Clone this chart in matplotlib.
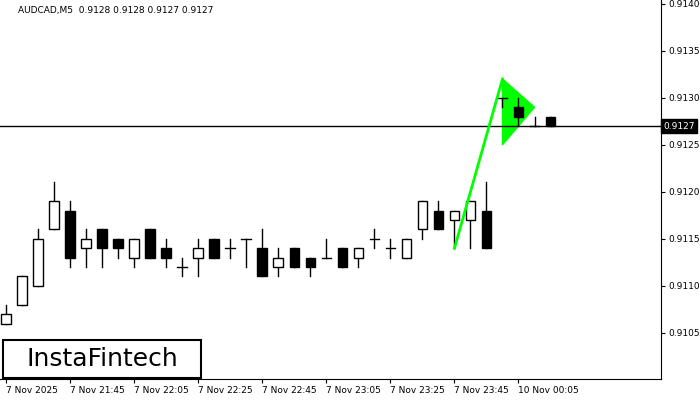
import matplotlib.pyplot as plt
from matplotlib.patches import Rectangle, Polygon

opens = [0.9106, 0.9108, 0.9110, 0.9116, 0.9118, 0.9114, 0.9116, 0.9115, 0.9113, 0.9116,
         0.9114, 0.9112, 0.9113, 0.9115, 0.9114, 0.9115, 0.9114, 0.9112, 0.9114, 0.9113,
         0.9113, 0.9114, 0.9113, 0.9115, 0.9114, 0.9113, 0.9116, 0.9118, 0.9117, 0.9117,
         0.9118, 0.9130, 0.9129, 0.9127, 0.9128]
closes = [0.9107, 0.9111, 0.9115, 0.9119, 0.9113, 0.9115, 0.9114, 0.9114, 0.9115, 0.9113,
          0.9113, 0.9112, 0.9114, 0.9113, 0.9114, 0.9115, 0.9111, 0.9113, 0.9112, 0.9112,
          0.9113, 0.9112, 0.9114, 0.9115, 0.9114, 0.9115, 0.9119, 0.9116, 0.9118, 0.9119,
          0.9114, 0.9130, 0.9128, 0.9127, 0.9127]
highs = [0.9108, 0.9111, 0.9116, 0.9121, 0.9119, 0.9116, 0.9116, 0.9115, 0.9115, 0.9116,
         0.9115, 0.9113, 0.9115, 0.9115, 0.9115, 0.9115, 0.9116, 0.9114, 0.9114, 0.9113,
         0.9115, 0.9114, 0.9114, 0.9116, 0.9115, 0.9115, 0.9119, 0.9119, 0.9118, 0.9119,
         0.9121, 0.9130, 0.9130, 0.9128, 0.9128]
lows = [0.9106, 0.9108, 0.9110, 0.9116, 0.9112, 0.9112, 0.9112, 0.9113, 0.9112, 0.9113,
        0.9112, 0.9111, 0.9111, 0.9113, 0.9113, 0.9112, 0.9111, 0.9111, 0.9112, 0.9111,
        0.9113, 0.9112, 0.9112, 0.9114, 0.9113, 0.9113, 0.9115, 0.9116, 0.9114, 0.9114,
        0.9114, 0.9129, 0.9127, 0.9127, 0.9127]

tick_idx = [0, 4, 8, 12, 16, 20, 24, 28, 32]
tick_labels = ["7 Nov 2025", "7 Nov 21:45", "7 Nov 22:05", "7 Nov 22:25", "7 Nov 22:45",
               "7 Nov 23:05", "7 Nov 23:25", "7 Nov 23:45", "10 Nov 00:05"]
y_ticks = [0.9105, 0.9110, 0.9115, 0.9120, 0.9125, 0.9130, 0.9135, 0.9140]
last_price = 0.9127

# pennant: pole from bar 28 to 31, flag triangle
pole = [(28, 0.9114), (31, 0.9132)]
flag = [(31, 0.9132), (31, 0.9125), (33, 0.9129)]

fig = plt.figure(figsize=(7, 4), dpi=100)
ax = fig.add_axes([0, 0.0525, 661 / 700, 0.9475])
w = 0.6
for i, (o, c, h, l) in enumerate(zip(opens, closes, highs, lows)):
    ax.plot([i, i], [l, h], color="black", lw=1, zorder=2)
    if o == c:
        ax.plot([i - w / 2, i + w / 2], [o, o], color="black", lw=1, zorder=3)
    else:
        ax.add_patch(Rectangle((i - w / 2, min(o, c)), w, abs(c - o),
                               facecolor="white" if c > o else "black",
                               edgecolor="black", lw=1, zorder=3))

ax.plot([p[0] for p in pole], [p[1] for p in pole], color="#00ff00", lw=2, zorder=4)
ax.add_patch(Polygon(flag, closed=True, facecolor="#00ff00", edgecolor="#00ff00", zorder=1))

ax.axhline(last_price, color="black", lw=1, zorder=1)

ax.set_xlim(-0.38, 40.9)
ax.set_ylim(0.91001, 0.91404)
ax.yaxis.tick_right()
ax.set_yticks(y_ticks)
ax.set_yticklabels([f"{v:.4f}" for v in y_ticks], fontsize=6.5)
ax.set_xticks(tick_idx)
ax.set_xticklabels(tick_labels, fontsize=6.5, ha="left")
ax.tick_params(length=3, width=0.8, pad=2)
for s in ["top", "left"]:
    ax.spines[s].set_visible(False)
ax.text(1.003, last_price, f"{last_price:.4f}", transform=ax.get_yaxis_transform(),
        fontsize=6.5, color="white", va="center", ha="left",
        bbox=dict(facecolor="black", edgecolor="black", pad=1.5))
ax.text(18 / 661, 1 - 11 / 379, "AUDCAD,M5  0.9128 0.9128 0.9127 0.9127",
        transform=ax.transAxes, fontsize=6.5, va="center")

fig.patches.append(Rectangle((3 / 700, 22 / 400), 198 / 700, 38 / 400, transform=fig.transFigure,
                             facecolor="white", edgecolor="black", lw=1.5, zorder=5))
fig.text(102 / 700, 41 / 400, "InstaFintech", fontsize=18, ha="center", va="center", zorder=6)

fig.savefig("out.png", dpi=100)
